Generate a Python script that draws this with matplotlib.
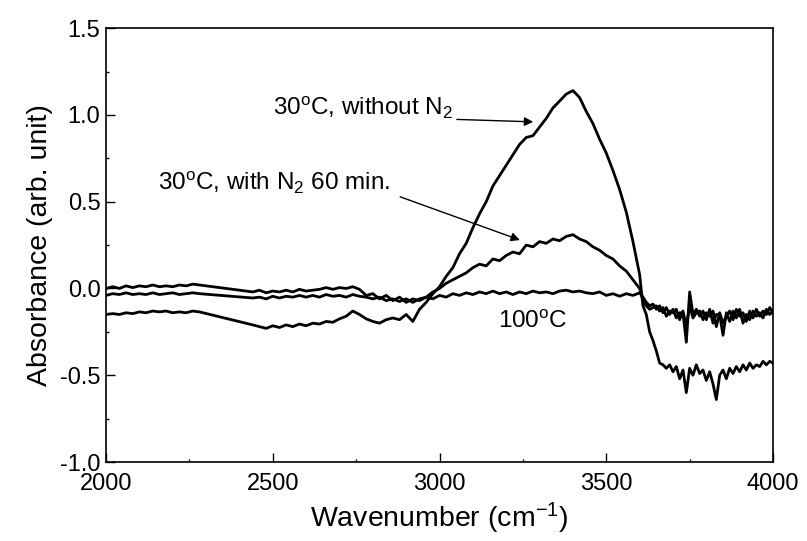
import matplotlib
matplotlib.use("Agg")
import matplotlib.pyplot as plt
from matplotlib.ticker import MultipleLocator, FormatStrFormatter

plt.rcParams['font.family'] = ['Liberation Sans', 'DejaVu Sans']
plt.rcParams['mathtext.fontset'] = 'custom'
plt.rcParams['mathtext.rm'] = 'Liberation Sans'
plt.rcParams['mathtext.it'] = 'Liberation Sans'

# wavenumber grid (cm-1); the 2290-2430 region has no data (straight segment)
wavenumber = [
    2000, 2020, 2040, 2060, 2080, 2100, 2120, 2140, 2160, 2180, 2200, 2220, 2240, 2260, 2280,
    2440, 2460, 2480, 2500, 2520, 2540, 2560, 2580, 2600, 2620, 2640, 2660, 2680, 2700, 2720,
    2740, 2760, 2780, 2800, 2820, 2840, 2860, 2880, 2900, 2920, 2940, 2960, 2980, 3000, 3020,
    3040, 3060, 3080, 3100, 3120, 3140, 3160, 3180, 3200, 3220, 3240, 3260, 3280, 3300, 3320,
    3340, 3360, 3380, 3400, 3420, 3440, 3460, 3480, 3500, 3520, 3540, 3560, 3580, 3600,
    3610, 3620, 3630, 3640, 3650, 3660, 3670, 3680, 3690, 3700, 3710, 3720, 3730, 3740, 3750,
    3760, 3770, 3780, 3790, 3800, 3810, 3820, 3830, 3840, 3850, 3860, 3870, 3880, 3890, 3900,
    3910, 3920, 3930, 3940, 3950, 3960, 3970, 3980, 3990, 4000,
]

# 30 C, without N2
abs_no_n2 = [
    -0.150, -0.145, -0.150, -0.140, -0.145, -0.135, -0.140, -0.130, -0.135, -0.130, -0.140, -0.135, -0.140, -0.130, -0.135,
    -0.210, -0.220, -0.230, -0.215, -0.225, -0.210, -0.220, -0.205, -0.215, -0.200, -0.205, -0.190, -0.195, -0.175, -0.160,
    -0.130, -0.150, -0.175, -0.190, -0.200, -0.180, -0.170, -0.180, -0.150, -0.190, -0.120, -0.080, -0.030, 0.010, 0.070,
    0.120, 0.200, 0.260, 0.350, 0.430, 0.500, 0.590, 0.650, 0.710, 0.770, 0.830, 0.870, 0.880, 0.930, 0.980,
    1.040, 1.080, 1.120, 1.140, 1.100, 1.020, 0.950, 0.860, 0.780, 0.680, 0.570, 0.440, 0.270, 0.080,
    -0.100, -0.150, -0.250, -0.300, -0.360, -0.430, -0.440, -0.460, -0.440, -0.480, -0.450, -0.520, -0.470, -0.600, -0.460,
    -0.500, -0.440, -0.490, -0.470, -0.530, -0.480, -0.550, -0.640, -0.500, -0.470, -0.520, -0.460, -0.490, -0.450, -0.480,
    -0.440, -0.470, -0.430, -0.460, -0.440, -0.450, -0.420, -0.440, -0.420, -0.430,
]

# 30 C, with N2 60 min
abs_n2_60 = [
    -0.040, -0.030, -0.035, -0.025, -0.035, -0.030, -0.035, -0.025, -0.035, -0.030, -0.025, -0.035, -0.030, -0.025, -0.030,
    -0.055, -0.050, -0.060, -0.045, -0.055, -0.045, -0.050, -0.040, -0.050, -0.040, -0.050, -0.035, -0.045, -0.040, -0.050,
    -0.035, -0.045, -0.050, -0.060, -0.050, -0.070, -0.060, -0.075, -0.060, -0.080, -0.060, -0.050, -0.020, 0.000, 0.030,
    0.050, 0.070, 0.090, 0.120, 0.140, 0.130, 0.170, 0.160, 0.190, 0.210, 0.200, 0.250, 0.240, 0.270, 0.260,
    0.285, 0.275, 0.300, 0.310, 0.285, 0.270, 0.240, 0.220, 0.190, 0.170, 0.130, 0.100, 0.050, 0.000,
    -0.070, -0.100, -0.120, -0.110, -0.100, -0.130, -0.110, -0.160, -0.130, -0.140, -0.120, -0.180, -0.130, -0.220, -0.100,
    -0.170, -0.140, -0.130, -0.180, -0.140, -0.160, -0.130, -0.220, -0.140, -0.200, -0.160, -0.130, -0.180, -0.120, -0.160,
    -0.140, -0.190, -0.130, -0.170, -0.120, -0.160, -0.130, -0.150, -0.110, -0.140,
]

# 100 C
abs_100c = [
    0.000, 0.010, 0.000, 0.015, 0.005, 0.015, 0.010, 0.020, 0.010, 0.015, 0.010, 0.020, 0.015, 0.025, 0.020,
    -0.020, -0.010, -0.025, -0.015, -0.020, -0.010, -0.020, -0.005, -0.015, -0.010, -0.005, 0.005, -0.005, 0.005, 0.000,
    0.010, -0.005, -0.040, -0.030, -0.060, -0.040, -0.070, -0.050, -0.080, -0.060, -0.070, -0.050, -0.060, -0.040, -0.050,
    -0.030, -0.040, -0.025, -0.035, -0.020, -0.030, -0.015, -0.030, -0.020, -0.035, -0.020, -0.030, -0.015, -0.025, -0.020,
    -0.030, -0.015, -0.010, -0.020, -0.015, -0.025, -0.030, -0.020, -0.040, -0.030, -0.045, -0.030, -0.040, -0.025,
    -0.050, -0.080, -0.100, -0.090, -0.120, -0.100, -0.140, -0.110, -0.150, -0.120, -0.170, -0.140, -0.140, -0.310, -0.020,
    -0.150, -0.120, -0.160, -0.130, -0.180, -0.120, -0.200, -0.150, -0.150, -0.270, -0.140, -0.190, -0.130, -0.170, -0.120,
    -0.200, -0.150, -0.180, -0.130, -0.160, -0.140, -0.170, -0.120, -0.150, -0.130,
]

fig = plt.figure(figsize=(8.07, 5.41), dpi=100)
ax = fig.add_axes([0.1314, 0.146, 0.8265, 0.802])

for series in (abs_no_n2, abs_n2_60, abs_100c):
    ax.plot(wavenumber, series, color='black', lw=2.0)

ax.set_xlim(2000, 4000)
ax.set_ylim(-1.0, 1.5)
ax.xaxis.set_major_locator(MultipleLocator(500))
ax.xaxis.set_minor_locator(MultipleLocator(250))
ax.yaxis.set_major_locator(MultipleLocator(0.5))
ax.yaxis.set_minor_locator(MultipleLocator(0.25))
ax.yaxis.set_major_formatter(FormatStrFormatter('%.1f'))
ax.tick_params(which='both', direction='in', top=False, right=False, labelsize=17, width=1.0)
ax.tick_params(which='major', length=6.5)
ax.tick_params(which='minor', length=2.5)
ax.tick_params(axis='x', pad=8)
ax.tick_params(axis='y', pad=4)
for sp in ax.spines.values():
    sp.set_linewidth(1.2)

ax.set_xlabel(r'Wavenumber (cm$^{\mathrm{-1}}$)', fontsize=20.5, labelpad=4)
ax.set_ylabel('Absorbance (arb. unit)', fontsize=20.5, labelpad=5)

# annotations: text and arrows placed separately
ax.text(3040, 0.999, r'30$^{\mathrm{o}}$C, without N$_{\mathrm{2}}$', ha='right', va='baseline', fontsize=17.5)
ax.annotate('', xy=(3281, 0.960), xytext=(3052, 0.974),
            arrowprops=dict(arrowstyle='-|>', color='black', lw=1.0, mutation_scale=13, shrinkA=0, shrinkB=0))
ax.text(2852, 0.567, r'30$^{\mathrm{o}}$C, with N$_{\mathrm{2}}$ 60 min.', ha='right', va='baseline', fontsize=17.5)
ax.annotate('', xy=(3241, 0.279), xytext=(2882, 0.528),
            arrowprops=dict(arrowstyle='-|>', color='black', lw=1.0, mutation_scale=13, shrinkA=0, shrinkB=0))
ax.text(3280, -0.230, r'100$^{\mathrm{o}}$C', ha='center', va='baseline', fontsize=17.5)

fig.savefig('out.png', dpi=100)
